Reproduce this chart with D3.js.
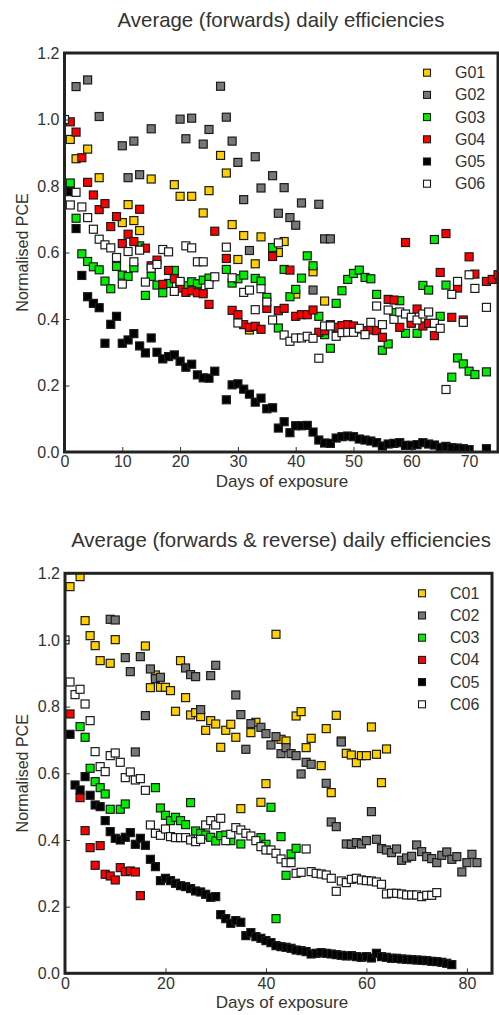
<!DOCTYPE html>
<html>
<head>
<meta charset="utf-8">
<script src="https://cdn.jsdelivr.net/npm/d3@7"></script>
<style>
  body { margin: 0; background: #fff; }
  svg text { font-family: "Liberation Sans", Arial, sans-serif; fill: #333; }
</style>
</head>
<body>
<div id="chart"></div>
<script>
// ---- data: [day, normalised PCE] ----
const G01 = [[1,.94],[2,.882],[4,.911],[6,.825],[10,.69],[11,.744],[12,.696],[13,.666],[15,.821],[19,.804],[20,.769],[22,.769],[24,.719],[25,.786],[27,.892],[28,.839],[29,.684],[30,.579],[31,.651],[32,.367],[33,.566],[34,.647],[37,.6],[38,.633],[40,.475],[43,.542],[45,.454]];
const G02 = [[2,1.099],[4,1.119],[6,1.009],[10,.921],[11,.825],[12,.935],[13,.834],[15,.972],[20,1.001],[21,.942],[22,1.004],[24,.926],[25,.97],[27,1.1],[28,1.007],[29,.935],[30,.871],[31,.759],[32,.606],[33,.888],[34,.794],[36,.831],[37,.718],[38,.795],[39,.705],[40,.682],[41,.749],[43,.487],[44,.745],[45,.641],[46,.641]];
const G03 = [[1,.809],[2,.703],[3,.596],[4,.573],[5,.557],[6,.548],[7,.514],[8,.491],[9,.558],[10,.532],[11,.528],[12,.554],[13,.62],[14,.471],[15,.528],[16,.502],[17,.479],[18,.507],[19,.546],[20,.509],[21,.5],[22,.512],[23,.506],[24,.517],[25,.523],[28,.549],[29,.508],[30,.521],[31,.532],[33,.522],[34,.514],[35,.465],[36,.615],[37,.373],[38,.549],[39,.467],[40,.489],[41,.523],[42,.59],[43,.56],[44,.408],[45,.353],[46,.312],[47,.447],[48,.485],[49,.519],[50,.537],[51,.547],[52,.525],[53,.521],[54,.474],[55,.306],[56,.325],[57,.419],[58,.455],[59,.357],[60,.39],[61,.357],[62,.501],[63,.487],[64,.639],[65,.408],[66,.502],[67,.225],[68,.283],[69,.265],[70,.243],[71,.233],[73,.241]];
const G04 = [[1,.993],[2,.962],[3,.885],[4,.811],[5,.773],[6,.729],[7,.747],[8,.678],[9,.708],[10,.627],[11,.655],[12,.633],[13,.73],[14,.613],[15,.56],[16,.577],[17,.504],[18,.546],[19,.521],[20,.493],[21,.48],[22,.485],[23,.479],[24,.476],[25,.444],[26,.664],[28,.582],[29,.426],[30,.413],[31,.383],[32,.375],[33,.378],[34,.369],[35,.432],[36,.588],[37,.425],[38,.432],[39,.547],[40,.408],[41,.413],[42,.413],[43,.427],[44,.36],[45,.365],[46,.383],[47,.375],[48,.38],[49,.383],[50,.379],[51,.37],[52,.365],[53,.367],[54,.365],[55,.345],[56,.459],[57,.457],[58,.375],[59,.63],[60,.387],[61,.43],[62,.379],[63,.387],[64,.35],[65,.54],[66,.657],[67,.405],[68,.493],[69,.397],[70,.587],[71,.535],[73,.513],[74,.519],[75,.533]];
const G05 = [[1,.783],[2,.672],[3,.531],[4,.467],[5,.447],[6,.434],[7,.327],[8,.384],[9,.408],[10,.327],[11,.337],[12,.356],[13,.319],[14,.298],[15,.343],[16,.3],[17,.28],[18,.287],[19,.292],[20,.273],[21,.255],[22,.264],[23,.232],[24,.223],[25,.222],[26,.243],[28,.157],[29,.202],[30,.205],[31,.189],[32,.174],[33,.15],[34,.162],[35,.13],[36,.133],[37,.072],[38,.091],[39,.058],[40,.079],[41,.079],[42,.08],[43,.06],[44,.036],[45,.027],[46,.026],[47,.042],[48,.046],[49,.048],[50,.046],[51,.039],[52,.036],[53,.033],[54,.028],[55,.018],[56,.024],[57,.026],[58,.028],[59,.02],[60,.02],[61,.022],[62,.028],[63,.024],[64,.021],[65,.014],[66,.017],[67,.013],[68,.012],[69,.01],[70,.007],[73,.01]];
const G06 = [[0,1.0],[1,.743],[2,.781],[3,.737],[4,.705],[5,.67],[6,.64],[7,.623],[8,.614],[9,.585],[10,.505],[11,.603],[12,.572],[13,.607],[14,.511],[15,.553],[16,.564],[17,.609],[18,.602],[19,.483],[20,.513],[21,.62],[22,.614],[23,.572],[24,.572],[25,.504],[26,.527],[28,.616],[29,.524],[30,.388],[31,.48],[32,.487],[33,.428],[34,.491],[35,.451],[36,.397],[37,.629],[38,.352],[39,.333],[40,.343],[41,.343],[42,.348],[43,.342],[44,.282],[45,.379],[46,.379],[47,.348],[48,.359],[49,.36],[50,.36],[51,.372],[52,.353],[53,.39],[54,.439],[55,.383],[56,.427],[57,.399],[58,.421],[59,.415],[60,.405],[61,.397],[62,.415],[63,.421],[64,.387],[65,.372],[66,.188],[67,.474],[68,.513],[69,.39],[70,.533],[71,.492],[73,.435]];

const C01 = [[1,1.16],[3,1.19],[4,1.058],[5,1.013],[6,.983],[7,.938],[9,.93],[10,1.001],[16,.982],[17,.857],[18,.895],[19,.858],[20,.858],[21,.848],[22,.786],[23,.938],[24,.827],[25,.775],[26,.782],[27,.77],[28,.729],[29,.758],[30,.748],[31,.678],[32,.729],[33,.747],[34,.708],[35,.494],[37,.722],[38,.753],[39,.513],[40,.569],[42,1.017],[43,.702],[44,.697],[46,.772],[47,.785],[48,.677],[49,.705],[51,.623],[52,.734],[53,.542],[54,.774],[55,.697],[56,.66],[57,.655],[58,.632],[59,.653],[60,.653],[61,.739],[62,.657],[63,.572],[64,.673]];
const C02 = [[9,1.062],[10,1.06],[12,.947],[13,.905],[14,.664],[15,.95],[16,.773],[17,.913],[18,.884],[19,.888],[24,.916],[25,.896],[26,.89],[27,.791],[29,.893],[30,.924],[34,.835],[35,.776],[36,.672],[37,.749],[39,.738],[40,.719],[41,.685],[42,.71],[43,.659],[44,.677],[45,.659],[46,.653],[47,.598],[48,.633],[49,.627],[52,.57],[53,.454],[54,.44],[55,.694],[56,.388],[57,.387],[58,.392],[59,.388],[60,.398],[61,.485],[62,.402],[63,.374],[64,.37],[65,.362],[66,.373],[67,.339],[68,.346],[69,.351],[70,.385],[71,.365],[72,.35],[73,.344],[74,.332],[75,.354],[76,.364],[77,.342],[78,.35],[79,.304],[80,.332],[81,.357],[82,.332]];
const C03 = [[3,.74],[4,.708],[5,.615],[6,.575],[7,.557],[8,.538],[9,.492],[11,.492],[12,.508],[18,.557],[19,.496],[20,.474],[21,.458],[22,.468],[23,.458],[24,.446],[25,.512],[26,.427],[27,.42],[28,.415],[29,.408],[30,.397],[31,.413],[32,.415],[33,.398],[35,.388],[39,.407],[40,.387],[41,.498],[42,.164],[43,.41],[44,.294],[45,.358],[46,.375]];
const C04 = [[1,.778],[3,.527],[4,.428],[5,.377],[6,.324],[7,.383],[8,.297],[9,.292],[10,.28],[11,.317],[12,.305],[13,.307],[14,.304],[15,.233]];
const C05 = [[1,.717],[2,.565],[3,.55],[4,.59],[5,.534],[6,.505],[7,.5],[8,.458],[9,.425],[10,.405],[11,.4],[12,.408],[13,.422],[14,.387],[15,.405],[16,.384],[17,.342],[18,.32],[19,.278],[20,.285],[21,.278],[22,.27],[23,.263],[24,.26],[25,.254],[26,.247],[27,.244],[28,.237],[29,.228],[30,.23],[31,.176],[32,.164],[33,.15],[34,.158],[35,.153],[36,.113],[37,.122],[38,.11],[39,.105],[40,.098],[41,.092],[42,.083],[43,.08],[44,.078],[45,.075],[46,.07],[47,.068],[48,.065],[49,.058],[50,.06],[51,.062],[52,.06],[53,.058],[54,.056],[55,.054],[56,.052],[57,.053],[58,.05],[59,.048],[60,.05],[61,.046],[62,.06],[63,.05],[64,.048],[65,.045],[66,.045],[67,.043],[68,.042],[69,.041],[70,.04],[71,.039],[72,.038],[73,.036],[74,.035],[75,.033],[76,.03],[77,.026]];
const C06 = [[0,1.0],[1,.874],[2,.836],[3,.852],[4,.808],[5,.758],[6,.665],[7,.62],[8,.605],[9,.653],[10,.661],[11,.633],[12,.587],[13,.604],[14,.58],[15,.584],[16,.549],[17,.445],[18,.42],[19,.414],[20,.433],[21,.41],[22,.407],[23,.407],[24,.407],[25,.4],[26,.395],[27,.402],[28,.445],[29,.458],[30,.445],[31,.465],[32,.398],[33,.417],[34,.437],[35,.43],[36,.42],[37,.412],[38,.398],[39,.38],[40,.37],[41,.37],[42,.36],[43,.343],[44,.332],[45,.332],[46,.3],[47,.303],[48,.373],[49,.305],[50,.3],[51,.298],[52,.295],[53,.285],[54,.246],[55,.277],[56,.272],[57,.282],[58,.285],[59,.28],[60,.278],[61,.277],[62,.274],[63,.267],[64,.238],[65,.24],[66,.24],[67,.238],[68,.235],[69,.235],[70,.235],[71,.23],[72,.234],[73,.234],[74,.242]];

const seriesColors = ["#ffd000", "#777777", "#00ee00", "#ff0000", "#000000", "#ffffff"];
const topNames = ["G01", "G02", "G03", "G04", "G05", "G06"];
const botNames = ["C01", "C02", "C03", "C04", "C05", "C06"];
const yTicks = [0, 0.2, 0.4, 0.6, 0.8, 1.0, 1.2];

const W = 499, H = 1015;
const svg = d3.select("#chart").append("svg")
    .attr("width", W)
    .attr("height", H);

function drawChart(cfg) {
    let g = svg.append("g");

    let x = d3.scaleLinear().domain([0, cfg.xMax]).range([cfg.left, cfg.right]);
    let y = d3.scaleLinear().domain([0, 1.2]).range([cfg.bottom, cfg.top]);

    // title
    g.append("text")
        .attr("x", 281).attr("y", cfg.top - 26)
        .attr("text-anchor", "middle")
        .style("font-size", "20.4px")
        .text(cfg.title);

    // clip for the points
    svg.append("clipPath").attr("id", cfg.id)
        .append("rect")
        .attr("x", cfg.left).attr("y", cfg.top)
        .attr("width", cfg.right - cfg.left).attr("height", cfg.bottom - cfg.top);

    let pts = g.append("g").attr("clip-path", "url(#" + cfg.id + ")");
    cfg.series.forEach((s, i) => {
        pts.append("g").selectAll("rect")
            .data(s)
            .enter().append("rect")
            .attr("x", d => x(d[0]) - 4)
            .attr("y", d => y(d[1]) - 4)
            .attr("width", 8).attr("height", 8)
            .attr("fill", seriesColors[i])
            .attr("stroke", "#1a1a1a")
            .attr("stroke-width", 1.2);
    });

    // axes with inward ticks
    let xAxis = d3.axisBottom(x).tickValues(cfg.xTicks).tickSize(-5).tickPadding(4).tickFormat(d3.format("d"));
    let yAxis = d3.axisLeft(y).tickValues(yTicks).tickSize(-5).tickPadding(5).tickFormat(d3.format(".1f"));

    let gx = g.append("g").attr("transform", "translate(0," + cfg.bottom + ")").call(xAxis);
    let gy = g.append("g").attr("transform", "translate(" + cfg.left + ",0)").call(yAxis);
    [gx, gy].forEach(a => {
        a.select(".domain").remove();
        a.selectAll("line").attr("stroke", "#333");
        a.selectAll("text").style("font-size", "16px").attr("fill", "#333");
    });

    // frame
    g.append("rect")
        .attr("x", cfg.left).attr("y", cfg.top)
        .attr("width", cfg.right - cfg.left).attr("height", cfg.bottom - cfg.top)
        .attr("fill", "none")
        .attr("stroke", "#222")
        .attr("stroke-width", 3);

    // axis labels
    g.append("text")
        .attr("x", 282).attr("y", cfg.bottom + 35)
        .attr("text-anchor", "middle")
        .style("font-size", "17px")
        .text("Days of exposure");
    g.append("text")
        .attr("transform", "translate(28," + ((cfg.top + cfg.bottom) / 2) + ") rotate(-90)")
        .attr("text-anchor", "middle")
        .style("font-size", "16px")
        .text("Normalised PCE");

    // legend
    let leg = g.append("g").selectAll("g")
        .data(cfg.names)
        .enter().append("g")
        .attr("transform", (d, i) => "translate(" + cfg.legX + "," + (cfg.legY + i * 22.2) + ")");
    leg.append("rect")
        .attr("x", -3.5).attr("y", -3.5)
        .attr("width", 7).attr("height", 7)
        .attr("fill", (d, i) => seriesColors[i])
        .attr("stroke", "#1a1a1a")
        .attr("stroke-width", 1.1);
    leg.append("text")
        .attr("x", 28).attr("y", 5.5)
        .style("font-size", "16px")
        .text(d => d);
}

drawChart({
    id: "clipTop", title: "Average (forwards) daily efficiencies",
    left: 64.5, right: 498, top: 53, bottom: 452, xMax: 75,
    xTicks: [0, 10, 20, 30, 40, 50, 60, 70],
    series: [G01, G02, G03, G04, G05, G06], names: topNames,
    legX: 427, legY: 72.7
});

drawChart({
    id: "clipBot", title: "Average (forwards & reverse) daily efficiencies",
    left: 65, right: 492, top: 573.3, bottom: 973.3, xMax: 85,
    xTicks: [0, 20, 40, 60, 80],
    series: [C01, C02, C03, C04, C05, C06], names: botNames,
    legX: 422, legY: 593.3
});
</script>
</body>
</html>
